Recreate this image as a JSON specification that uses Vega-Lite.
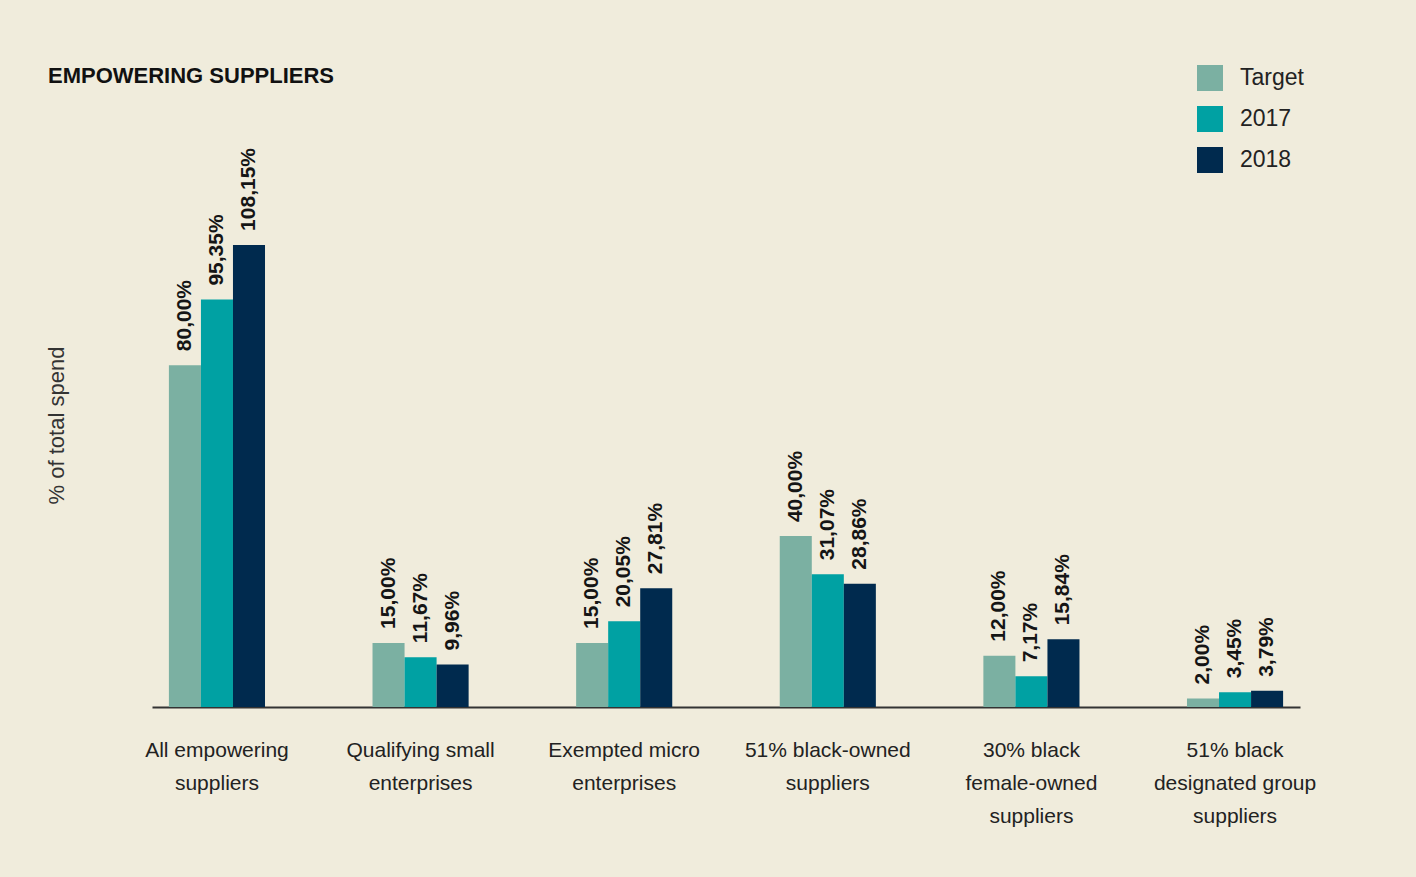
{
  "$schema": "https://vega.github.io/schema/vega-lite/v6.json",
  "width": 1148,
  "height": 564,
  "autosize": {"type": "none"},
  "padding": {"left": 152, "top": 143, "right": 116, "bottom": 170},
  "background": "#f0ecdc",
  "config": {
    "view": {"stroke": null},
    "font": "Liberation Sans",
    "locale": {"number": {"decimal": ",", "thousands": ".", "grouping": [3], "currency": ["", ""]}}
  },
  "title": {
    "text": "EMPOWERING SUPPLIERS",
    "anchor": "start",
    "frame": "group",
    "fontSize": 22,
    "fontWeight": "bold",
    "color": "#111111",
    "dx": -104,
    "dy": 33,
    "offset": 10
  },
  "data": {
    "values": [
      {"category": "All empowering|suppliers", "series": "Target", "value": 0.8},
      {"category": "All empowering|suppliers", "series": "2017", "value": 0.9535},
      {"category": "All empowering|suppliers", "series": "2018", "value": 1.0815},
      {"category": "Qualifying small|enterprises", "series": "Target", "value": 0.15},
      {"category": "Qualifying small|enterprises", "series": "2017", "value": 0.1167},
      {"category": "Qualifying small|enterprises", "series": "2018", "value": 0.0996},
      {"category": "Exempted micro|enterprises", "series": "Target", "value": 0.15},
      {"category": "Exempted micro|enterprises", "series": "2017", "value": 0.2005},
      {"category": "Exempted micro|enterprises", "series": "2018", "value": 0.2781},
      {"category": "51% black-owned|suppliers", "series": "Target", "value": 0.4},
      {"category": "51% black-owned|suppliers", "series": "2017", "value": 0.3107},
      {"category": "51% black-owned|suppliers", "series": "2018", "value": 0.2886},
      {"category": "30% black|female-owned|suppliers", "series": "Target", "value": 0.12},
      {"category": "30% black|female-owned|suppliers", "series": "2017", "value": 0.0717},
      {"category": "30% black|female-owned|suppliers", "series": "2018", "value": 0.1584},
      {"category": "51% black|designated group|suppliers", "series": "Target", "value": 0.02},
      {"category": "51% black|designated group|suppliers", "series": "2017", "value": 0.0345},
      {"category": "51% black|designated group|suppliers", "series": "2018", "value": 0.0379}
    ]
  },
  "encoding": {
    "x": {
      "field": "category",
      "type": "nominal",
      "sort": null,
      "scale": {"paddingInner": 0.528, "paddingOuter": 0.083},
      "axis": {
        "title": null,
        "labelAngle": 0,
        "labelExpr": "split(datum.label, '|')",
        "labelFontSize": 21,
        "labelColor": "#222222",
        "labelLineHeight": 33,
        "labelPadding": 32,
        "labelOverlap": false,
        "labelLimit": 0,
        "ticks": false,
        "domainColor": "#333333",
        "domainWidth": 2
      }
    },
    "xOffset": {
      "field": "series",
      "sort": ["Target", "2017", "2018"],
      "scale": {"paddingInner": 0, "paddingOuter": 0}
    },
    "y": {
      "field": "value",
      "type": "quantitative",
      "scale": {"domain": [0, 1.32]},
      "axis": {
        "title": "% of total spend",
        "labels": false,
        "ticks": false,
        "domain": false,
        "grid": false,
        "titleFontSize": 22,
        "titleFontWeight": "normal",
        "titleColor": "#333333",
        "titlePadding": 84
      }
    }
  },
  "layer": [
    {
      "mark": {"type": "bar"},
      "encoding": {
        "color": {
          "field": "series",
          "type": "nominal",
          "scale": {"domain": ["Target", "2017", "2018"], "range": ["#7bb0a2", "#00a1a3", "#002a4e"]},
          "legend": {
            "title": null,
            "orient": "none",
            "legendX": 1045,
            "legendY": -78,
            "symbolType": "square",
            "symbolSize": 676,
            "symbolStrokeWidth": 0,
            "symbolOpacity": 1,
            "labelFontSize": 23,
            "labelColor": "#222222",
            "labelOffset": 17,
            "rowPadding": 15
          }
        }
      }
    },
    {
      "mark": {
        "type": "text",
        "angle": 270,
        "align": "left",
        "baseline": "middle",
        "dx": 14,
        "fontSize": 21,
        "fontWeight": "bold",
        "color": "#151515"
      },
      "encoding": {
        "text": {"field": "value", "type": "quantitative", "format": ".2%"}
      }
    }
  ]
}
